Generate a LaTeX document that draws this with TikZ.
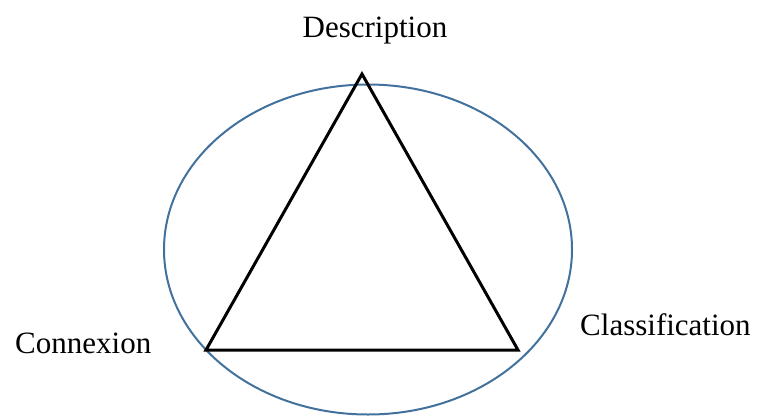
\documentclass[tikz,border=0pt]{standalone}
\usepackage{fontspec}
\setmainfont{Liberation Serif}
\usetikzlibrary{shapes.geometric}
\definecolor{ellblue}{RGB}{65,113,156}
\begin{document}
\begin{tikzpicture}[x=1pt,y=-1pt,
  lbl/.style={inner sep=0pt,font=\fontsize{31}{31}\selectfont},
  tri/.style={draw=black,line width=3pt,line join=miter},
  ell/.style={draw=ellblue,line width=2pt}]
\useasboundingbox (0,0) rectangle (759,418);
\node[ell,ellipse,minimum width=408pt,minimum height=330pt,inner sep=0pt] (circ) at (368,249.5) {};
\coordinate (top) at (362,74);
\coordinate (bl) at (206,350);
\coordinate (br) at (518,350);
\draw[tri] (top) -- (bl) -- (br) -- cycle;
\node[lbl,anchor=base] (desc) at (375,37) {Description};
\node[lbl,anchor=base west] (conn) at (15,353) {Connexion};
\node[lbl,anchor=base west] (class) at (580,335) {Classification};
\end{tikzpicture}
\end{document}
